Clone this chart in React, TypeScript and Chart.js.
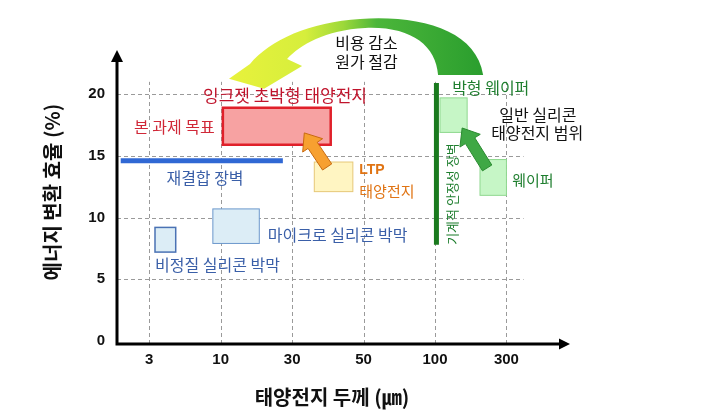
import React, { useEffect, useRef } from 'react';
import { Chart, registerables } from 'chart.js';

Chart.register(...registerables);

// ---- axes ----
const xTickLabels = ['3', '10', '30', '50', '100', '300'];
const yTickValues = [0, 5, 10, 15, 20];

// ---- ranges (x in tick-index units, y in %) ----
const inkjetTargetX = [1.03, 2.54];
const inkjetTargetY = [15.9, 18.9];
const ltpCellX = [2.31, 2.85];
const ltpCellY = [12.1, 14.5];
const amorphousFilmX = [0.08, 0.37];
const amorphousFilmY = [7.2, 9.2];
const microFilmX = [0.89, 1.54];
const microFilmY = [7.9, 10.7];
const thinWaferX = [4.07, 4.45];
const thinWaferY = [16.9, 19.7];
const waferX = [4.63, 5.0];
const waferY = [11.8, 14.7];

const recombinationBarrierX = [-0.4, 1.87];
const recombinationBarrierY = [14.6, 14.6];
const mechanicalLimitX = [4.02, 4.02];
const mechanicalLimitY = [7.8, 20.9];

const KR = '"Noto Sans CJK KR", "Noto Sans", sans-serif';
const LAT = '"Liberation Sans", Arial, sans-serif';

const boxes = [
  { x: amorphousFilmX, y: amorphousFilmY, fill: '#dcedf6', stroke: '#4a72b4', lw: 1.5 },
  { x: microFilmX, y: microFilmY, fill: '#dcedf6', stroke: '#6c98cc', lw: 1 },
  { x: ltpCellX, y: ltpCellY, fill: '#fff5c2', stroke: '#e6c878', lw: 1 },
  { x: inkjetTargetX, y: inkjetTargetY, fill: '#f7a2a2', stroke: '#e0202a', lw: 2.5 },
  { x: thinWaferX, y: thinWaferY, fill: '#c6f6c6', stroke: '#8fd88f', lw: 1 },
  { x: waferX, y: waferY, fill: '#c6f6c6', stroke: '#8fd88f', lw: 1 },
];

const labels = [
  { text: '잉크젯 초박형 태양전지', x: 1.9, y: 19.85, color: '#c0142c', size: 17, align: 'center' },
  { text: '본 과제 목표', x: 0.35, y: 17.34, color: '#d02838', size: 16, align: 'center' },
  { text: '재결합 장벽', x: 0.78, y: 13.21, color: '#3a5fa8', size: 16, align: 'center' },
  { text: 'LTP', x: 2.94, y: 13.86, color: '#e07414', size: 14, align: 'left', latin: true },
  { text: '태양전지', x: 2.94, y: 12.16, color: '#e07414', size: 15, align: 'left' },
  { text: '마이크로 실리콘 박막', x: 1.66, y: 8.59, color: '#3a5fa8', size: 16, align: 'left' },
  { text: '비정질 실리콘 박막', x: 0.08, y: 6.16, color: '#3a5fa8', size: 16, align: 'left' },
  { text: '박형 웨이퍼', x: 4.24, y: 20.5, color: '#1e7e2e', size: 16, align: 'left' },
  { text: '일반 실리콘', x: 5.44, y: 18.31, color: '#111111', size: 16, align: 'center' },
  { text: '태양전지 범위', x: 5.43, y: 16.86, color: '#111111', size: 16, align: 'center' },
  { text: '웨이퍼', x: 5.08, y: 13.05, color: '#1e7e2e', size: 15, align: 'left' },
  { text: '비용 감소', x: 3.04, y: 24.15, color: '#111111', size: 16, align: 'center' },
  { text: '원가 절감', x: 3.04, y: 22.6, color: '#111111', size: 16, align: 'center' },
];

const verticalLabel = { text: '기계적 안정성 장벽', x: 4.24, y: 11.9, color: '#1e7e2e', size: 13 };

const straightArrows = [
  { from: [2.49, 14.1], to: [2.17, 16.86], fill: '#f7a030', stroke: '#c86a10' },
  { from: [4.73, 14.02], to: [4.38, 17.26], fill: '#3fa845', stroke: '#2a8a30' },
];

const costArrowPath: any[] = [
  ['M', 4.674, 21.56],
  ['C', 4.575, 25.21, 3.791, 26.43, 2.951, 26.1],
  ['C', 2.251, 25.86, 1.69, 24.4, 1.41, 22.45],
  ['L', 1.116, 21.24],
  ['L', 1.607, 20.43],
  ['L', 2.139, 22.29],
  ['L', 1.929, 22.86],
  ['C', 2.111, 23.99, 2.461, 25.21, 3.021, 25.37],
  ['C', 3.651, 25.53, 4.015, 23.99, 4.043, 21.56],
  ['Z'],
];

function drawArrow(ctx: CanvasRenderingContext2D, x0: number, y0: number, x1: number, y1: number,
  shaftW: number, headW: number, headL: number, fill: string, stroke: string) {
  const dx = x1 - x0, dy = y1 - y0, len = Math.hypot(dx, dy);
  const ux = dx / len, uy = dy / len, nx = -uy, ny = ux;
  const bx = x1 - ux * headL, by = y1 - uy * headL;
  ctx.beginPath();
  ctx.moveTo(x0 + nx * shaftW / 2, y0 + ny * shaftW / 2);
  ctx.lineTo(bx + nx * shaftW / 2, by + ny * shaftW / 2);
  ctx.lineTo(bx + nx * headW / 2, by + ny * headW / 2);
  ctx.lineTo(x1, y1);
  ctx.lineTo(bx - nx * headW / 2, by - ny * headW / 2);
  ctx.lineTo(bx - nx * shaftW / 2, by - ny * shaftW / 2);
  ctx.lineTo(x0 - nx * shaftW / 2, y0 - ny * shaftW / 2);
  ctx.closePath();
  ctx.fillStyle = fill;
  ctx.fill();
  ctx.strokeStyle = stroke;
  ctx.lineWidth = 1;
  ctx.stroke();
}

const diagramPlugin = {
  id: 'diagram',
  beforeDatasetsDraw(chart: any) {
    const { ctx, chartArea, scales } = chart;
    const X = (v: number) => scales.x.getPixelForValue(v);
    const Y = (v: number) => scales.y.getPixelForValue(v);
    ctx.save();
    // dashed grid
    ctx.strokeStyle = '#9a9a9a';
    ctx.lineWidth = 1;
    ctx.setLineDash([4, 3]);
    yTickValues.filter(v => v > 0).forEach(v => {
      const y = Math.round(Y(v)) + 0.5;
      ctx.beginPath();
      ctx.moveTo(chartArea.left, y);
      ctx.lineTo(X(5.24), y);
      ctx.stroke();
    });
    xTickLabels.forEach((_, i) => {
      const x = Math.round(X(i)) + 0.5;
      ctx.beginPath();
      ctx.moveTo(x, chartArea.bottom);
      ctx.lineTo(x, Y(21));
      ctx.stroke();
    });
    ctx.setLineDash([]);
    // boxes
    boxes.forEach(b => {
      const x0 = X(b.x[0]), x1 = X(b.x[1]), y0 = Y(b.y[1]), y1 = Y(b.y[0]);
      ctx.fillStyle = b.fill;
      ctx.fillRect(x0, y0, x1 - x0, y1 - y0);
      ctx.strokeStyle = b.stroke;
      ctx.lineWidth = b.lw;
      ctx.strokeRect(x0, y0, x1 - x0, y1 - y0);
    });
    ctx.restore();
  },
  afterDatasetsDraw(chart: any) {
    const { ctx, chartArea, scales } = chart;
    const X = (v: number) => scales.x.getPixelForValue(v);
    const Y = (v: number) => scales.y.getPixelForValue(v);
    ctx.save();
    // curved cost arrow
    const grad = ctx.createLinearGradient(X(1.116), 0, X(4.674), 0);
    grad.addColorStop(0, '#e8f23c');
    grad.addColorStop(0.3, '#d6ee3c');
    grad.addColorStop(0.45, '#9cd83a');
    grad.addColorStop(0.58, '#4cb63a');
    grad.addColorStop(1, '#2a9e2e');
    ctx.beginPath();
    costArrowPath.forEach(seg => {
      const [op, ...a] = seg;
      if (op === 'M') ctx.moveTo(X(a[0]), Y(a[1]));
      else if (op === 'L') ctx.lineTo(X(a[0]), Y(a[1]));
      else if (op === 'C') ctx.bezierCurveTo(X(a[0]), Y(a[1]), X(a[2]), Y(a[3]), X(a[4]), Y(a[5]));
      else ctx.closePath();
    });
    ctx.fillStyle = grad;
    ctx.fill();
    // straight arrows
    straightArrows.forEach(a => {
      drawArrow(ctx, X(a.from[0]), Y(a.from[1]), X(a.to[0]), Y(a.to[1]), 11, 24, 15, a.fill, a.stroke);
    });
    // labels
    ctx.textBaseline = 'middle';
    labels.forEach(l => {
      ctx.font = l.latin ? `bold ${l.size}px ${LAT}` : `${l.size}px ${KR}`;
      ctx.fillStyle = l.color;
      ctx.textAlign = l.align as CanvasTextAlign;
      ctx.fillText(l.text, X(l.x), Y(l.y));
    });
    ctx.save();
    ctx.translate(X(verticalLabel.x), Y(verticalLabel.y));
    ctx.rotate(-Math.PI / 2);
    ctx.font = `${verticalLabel.size}px ${KR}`;
    ctx.fillStyle = verticalLabel.color;
    ctx.textAlign = 'center';
    ctx.fillText(verticalLabel.text, 0, 0);
    ctx.restore();
    // axes with arrow heads
    ctx.fillStyle = '#000';
    ctx.strokeStyle = '#000';
    ctx.lineWidth = 3;
    const l = chartArea.left, b = chartArea.bottom;
    ctx.beginPath();
    ctx.moveTo(l, b + 1.5);
    ctx.lineTo(l, chartArea.top + 10);
    ctx.moveTo(l - 1.5, b);
    ctx.lineTo(chartArea.right - 9, b);
    ctx.stroke();
    ctx.beginPath();
    ctx.moveTo(l, chartArea.top);
    ctx.lineTo(l - 6, chartArea.top + 12);
    ctx.lineTo(l + 6, chartArea.top + 12);
    ctx.closePath();
    ctx.fill();
    ctx.beginPath();
    ctx.moveTo(chartArea.right, b);
    ctx.lineTo(chartArea.right - 11, b - 5.5);
    ctx.lineTo(chartArea.right - 11, b + 5.5);
    ctx.closePath();
    ctx.fill();
    // axis titles
    ctx.fillStyle = '#111';
    ctx.font = `bold 20px ${KR}`;
    ctx.textAlign = 'center';
    ctx.textBaseline = 'middle';
    ctx.fillText('태양전지 두께 (㎛)', 332, 397);
    ctx.save();
    ctx.translate(52, 192);
    ctx.rotate(-Math.PI / 2);
    ctx.fillText('에너지 변환 효율 (%)', 0, 0);
    ctx.restore();
    ctx.restore();
  },
};

export default function App() {
  const ref = useRef<HTMLCanvasElement>(null);
  useEffect(() => {
    const tickFont = { family: LAT, size: 15, weight: 'bold' as const };
    const chart = new Chart(ref.current!, {
      type: 'scatter',
      data: {
        datasets: [
          {
            data: recombinationBarrierX.map((x, i) => ({ x, y: recombinationBarrierY[i] })),
            showLine: true, borderColor: '#3068d4', borderWidth: 5, pointRadius: 0, borderCapStyle: 'butt',
          },
          {
            data: mechanicalLimitX.map((x, i) => ({ x, y: mechanicalLimitY[i] })),
            showLine: true, borderColor: '#1a7a1e', borderWidth: 5, pointRadius: 0, borderCapStyle: 'butt',
          },
        ],
      },
      options: {
        animation: false,
        responsive: false,
        devicePixelRatio: 1,
        events: [],
        layout: { padding: { left: 0, right: 146, top: 50, bottom: 0 } },
        plugins: { legend: { display: false }, tooltip: { enabled: false } },
        scales: {
          x: {
            type: 'linear', min: -0.452, max: 5.89,
            afterFit: (s: any) => { s.height = 68; },
            afterBuildTicks: (s: any) => { s.ticks = xTickLabels.map((_, i) => ({ value: i })); },
            ticks: {
              autoSkip: false, maxRotation: 0, padding: 7, color: '#111', font: tickFont,
              callback: (v: any) => xTickLabels[Math.round(Number(v))] ?? '',
            },
            grid: { display: false, drawTicks: false },
            border: { display: false },
          },
          y: {
            type: 'linear', min: -0.25, max: 23.58,
            afterFit: (s: any) => { s.width = 117; },
            afterBuildTicks: (s: any) => { s.ticks = yTickValues.map(v => ({ value: v })); },
            ticks: { autoSkip: false, padding: 12, color: '#111', font: tickFont, callback: (v: any) => String(v) },
            grid: { display: false, drawTicks: false },
            border: { display: false },
          },
        },
      } as any,
      plugins: [diagramPlugin],
    });
    return () => chart.destroy();
  }, []);
  return (
    <div style={{ position: 'fixed', left: 0, top: 0, width: 716, height: 412, background: '#fff' }}>
      <canvas ref={ref} width={716} height={412} style={{ display: 'block', width: 716, height: 412 }} />
    </div>
  );
}
